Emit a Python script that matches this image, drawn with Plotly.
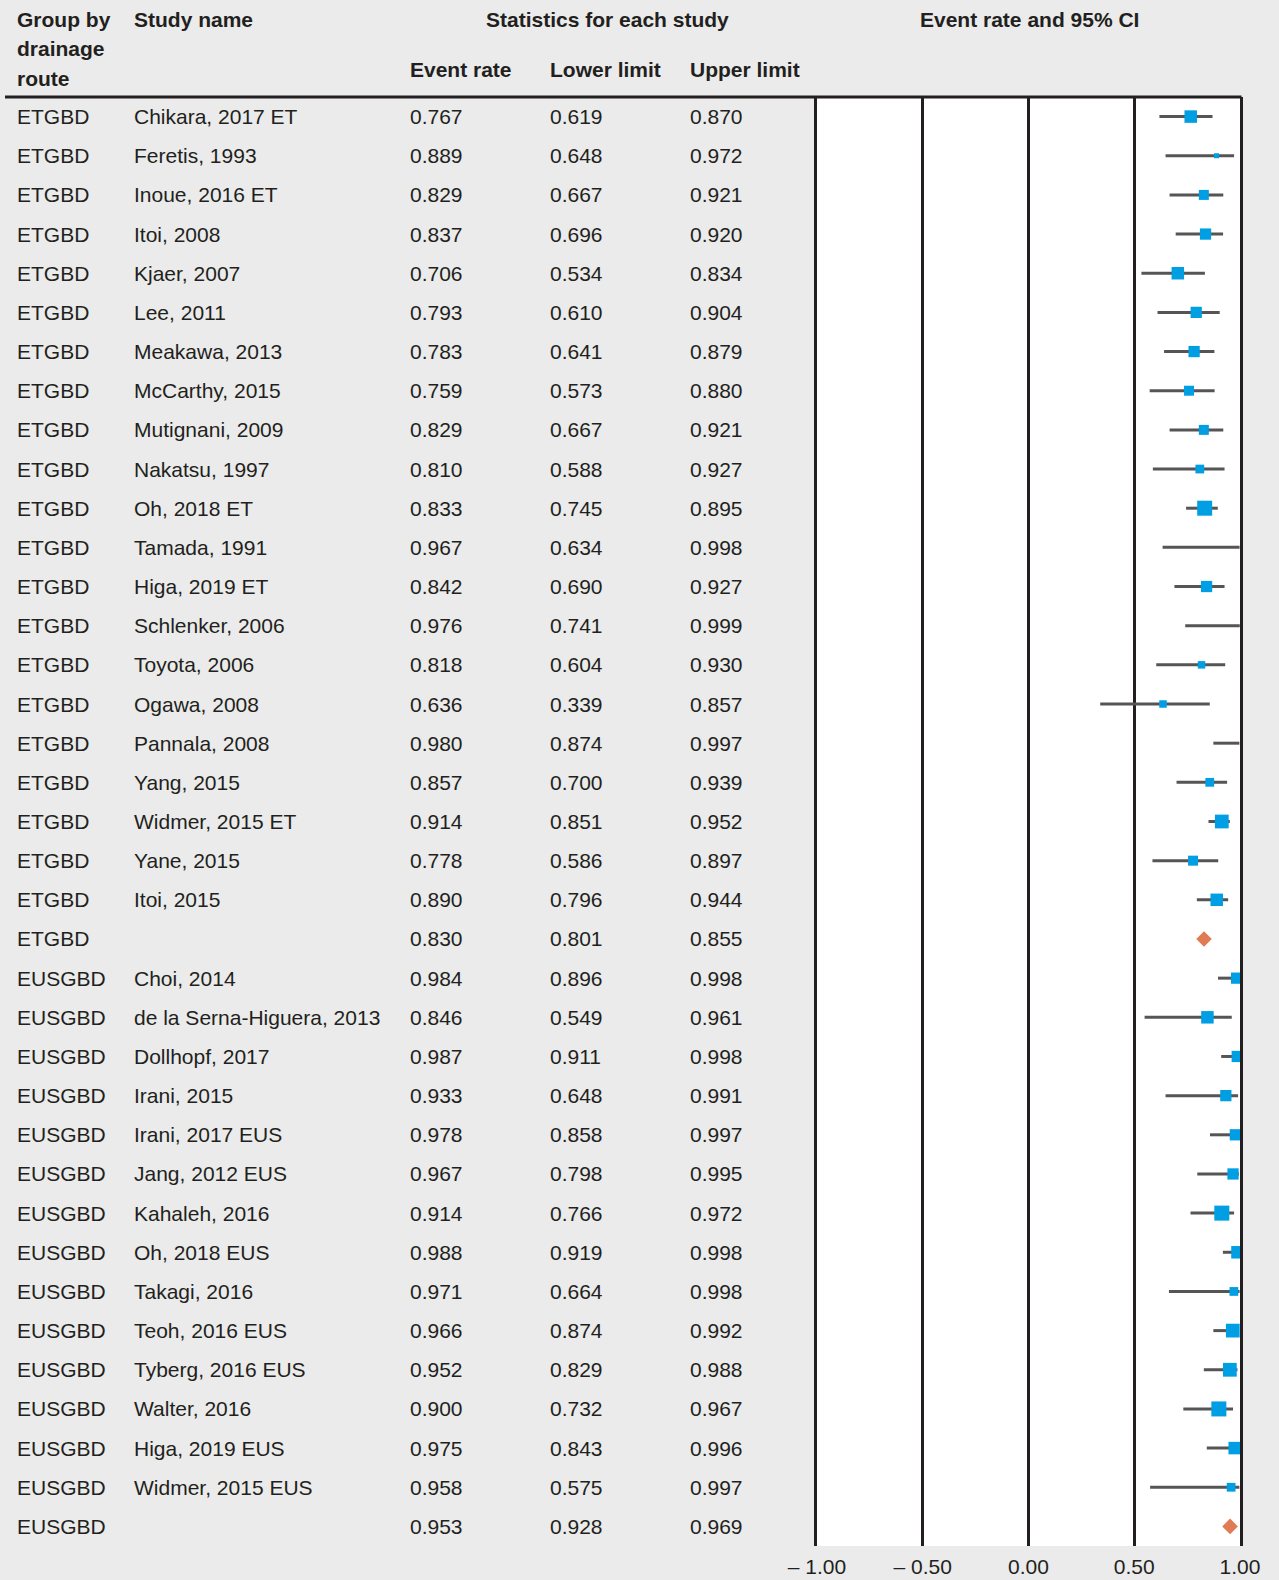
import plotly.graph_objects as go

groups = ["ETGBD"] * 22 + ["EUSGBD"] * 15
studies = [
    "Chikara, 2017 ET", "Feretis, 1993", "Inoue, 2016 ET", "Itoi, 2008", "Kjaer, 2007",
    "Lee, 2011", "Meakawa, 2013", "McCarthy, 2015", "Mutignani, 2009", "Nakatsu, 1997",
    "Oh, 2018 ET", "Tamada, 1991", "Higa, 2019 ET", "Schlenker, 2006", "Toyota, 2006",
    "Ogawa, 2008", "Pannala, 2008", "Yang, 2015", "Widmer, 2015 ET", "Yane, 2015",
    "Itoi, 2015", "",
    "Choi, 2014", "de la Serna-Higuera, 2013", "Dollhopf, 2017", "Irani, 2015",
    "Irani, 2017 EUS", "Jang, 2012 EUS", "Kahaleh, 2016", "Oh, 2018 EUS", "Takagi, 2016",
    "Teoh, 2016 EUS", "Tyberg, 2016 EUS", "Walter, 2016", "Higa, 2019 EUS",
    "Widmer, 2015 EUS", "",
]
event_rate = [
    0.767, 0.889, 0.829, 0.837, 0.706, 0.793, 0.783, 0.759, 0.829, 0.810,
    0.833, 0.967, 0.842, 0.976, 0.818, 0.636, 0.980, 0.857, 0.914, 0.778,
    0.890, 0.830,
    0.984, 0.846, 0.987, 0.933, 0.978, 0.967, 0.914, 0.988, 0.971, 0.966,
    0.952, 0.900, 0.975, 0.958, 0.953,
]
lower_limit = [
    0.619, 0.648, 0.667, 0.696, 0.534, 0.610, 0.641, 0.573, 0.667, 0.588,
    0.745, 0.634, 0.690, 0.741, 0.604, 0.339, 0.874, 0.700, 0.851, 0.586,
    0.796, 0.801,
    0.896, 0.549, 0.911, 0.648, 0.858, 0.798, 0.766, 0.919, 0.664, 0.874,
    0.829, 0.732, 0.843, 0.575, 0.928,
]
upper_limit = [
    0.870, 0.972, 0.921, 0.920, 0.834, 0.904, 0.879, 0.880, 0.921, 0.927,
    0.895, 0.998, 0.927, 0.999, 0.930, 0.857, 0.997, 0.939, 0.952, 0.897,
    0.944, 0.855,
    0.998, 0.961, 0.998, 0.991, 0.997, 0.995, 0.972, 0.998, 0.998, 0.992,
    0.988, 0.967, 0.996, 0.997, 0.969,
]
# relative weight (marker size)
weight = [
    10, 4, 8, 9, 10, 9, 9, 8, 8, 7,
    12, 0, 9, 0, 6, 6, 0, 7, 11, 8,
    10, 0,
    9, 10, 9, 9, 9, 9, 12, 10, 7, 11,
    11, 12, 10, 7, 0,
]
is_summary = [s == "" for s in studies]
x_ticks = [-1.0, -0.5, 0.0, 0.5, 1.0]
x_tick_text = ["\u2013 1.00", "\u2013 0.50", "0.00", "0.50", "1.00"]

W, H = 1279, 1580
PL, PR, PT, PB = 817, 1240, 97, 1546
FONT = "Liberation Sans"
TXT = "#231f20"
n = len(studies)
rows = list(range(n))

fig = go.Figure()

# invisible full-page pixel frame used for placing the table text
fig.add_trace(go.Scatter(x=[], y=[], xaxis="x2", yaxis="y2", showlegend=False))

# CI lines
lx, ly = [], []
for i in rows:
    if not is_summary[i]:
        lx += [lower_limit[i], upper_limit[i], None]
        ly += [i, i, None]
fig.add_trace(go.Scatter(x=lx, y=ly, mode="lines",
                         line=dict(color="#555555", width=3),
                         hoverinfo="skip", showlegend=False))

# study squares
sel = [i for i in rows if not is_summary[i] and weight[i] > 0]
fig.add_trace(go.Scatter(x=[event_rate[i] for i in sel], y=sel, mode="markers",
                         marker=dict(symbol="square",
                                     size=[weight[i] * 1.25 for i in sel],
                                     color="#009fe3", opacity=1,
                                     line=dict(width=0)),
                         showlegend=False))

# summary diamonds
dsel = [i for i in rows if is_summary[i]]
fig.add_trace(go.Scatter(x=[event_rate[i] for i in dsel], y=dsel, mode="markers",
                         marker=dict(symbol="diamond", size=12, color="#e07b54",
                                     opacity=1, line=dict(width=0)),
                         showlegend=False))

ann = []
col_x = [15, 132, 408, 548, 688]
for i in rows:
    vals = [groups[i], studies[i], f"{event_rate[i]:.3f}",
            f"{lower_limit[i]:.3f}", f"{upper_limit[i]:.3f}"]
    for cx, v in zip(col_x, vals):
        if v == "":
            continue
        ann.append(dict(x=cx, xref="x2", y=i, yref="y", text=v,
                        showarrow=False, xanchor="left", yanchor="middle",
                        font=dict(family=FONT, size=21, color=TXT)))

headers = [
    ("<b>Group by</b>", 15, 19, "left"),
    ("<b>drainage</b>", 15, 48, "left"),
    ("<b>route</b>", 15, 78, "left"),
    ("<b>Study name</b>", 132, 19, "left"),
    ("<b>Statistics for each study</b>", 607, 19, "center"),
    ("<b>Event rate</b>", 408, 69, "left"),
    ("<b>Lower limit</b>", 548, 69, "left"),
    ("<b>Upper limit</b>", 688, 69, "left"),
    ("<b>Event rate and 95% CI</b>", 1029, 19, "center"),
]
for t, hx, hy, anc in headers:
    ann.append(dict(x=hx, xref="x2", y=hy, yref="y2", text=t,
                    showarrow=False, xanchor=anc, yanchor="middle",
                    font=dict(family=FONT, size=21, color=TXT)))

fig.update_layout(
    width=W, height=H,
    margin=dict(l=0, r=0, t=0, b=0, pad=0),
    paper_bgcolor="#eaebea",
    plot_bgcolor="rgba(0,0,0,0)",
    annotations=ann,
    shapes=[
        dict(type="rect", xref="x domain", yref="y domain", x0=0, x1=1, y0=0, y1=1,
             fillcolor="#ffffff", line=dict(width=0), layer="below"),
        dict(type="line", xref="x2", yref="y2",
             x0=5, x1=PR + 1.5, y0=PT, y1=PT,
             line=dict(color="#231f20", width=3)),
    ],
    xaxis=dict(domain=[PL / W, PR / W], range=[-1, 1],
               tickvals=x_ticks, ticktext=x_tick_text,
               showgrid=True, gridcolor="#231f20", gridwidth=3,
               zeroline=False, showline=False,
               ticks="outside", ticklen=2, tickcolor="rgba(0,0,0,0)",
               tickfont=dict(family=FONT, size=21, color=TXT),
               fixedrange=True, automargin=False),
    yaxis=dict(domain=[(H - PB) / H, (H - PT) / H],
               range=[n - 0.5, -0.5], showticklabels=False, showgrid=False,
               zeroline=False, showline=True, mirror=True,
               linecolor="#231f20", linewidth=3, ticks="", fixedrange=True,
               automargin=False),
    xaxis2=dict(domain=[0, 1], range=[0, W], anchor="y2", visible=False,
                fixedrange=True),
    yaxis2=dict(domain=[0, 1], range=[H, 0], anchor="x2", visible=False,
                fixedrange=True),
    hovermode=False,
)

fig.write_html("out.html", config={"displayModeBar": False},
               post_script="document.body.style.margin='0';document.body.style.padding='0';")
